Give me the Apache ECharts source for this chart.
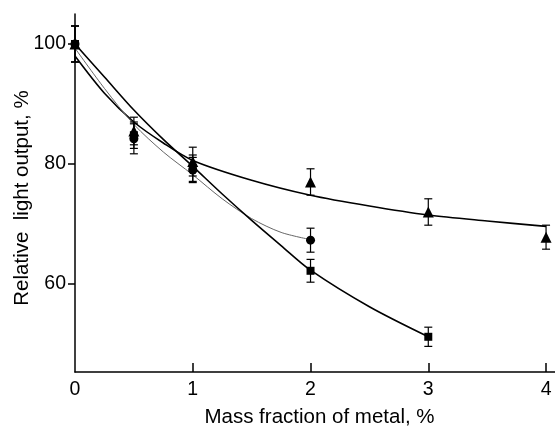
<!DOCTYPE html>
<html>
<head>
<meta charset="UTF-8">
<title>Relative light output</title>
<style>
    html, body { margin: 0; padding: 0; background: #fff; }
    #chartArea { width: 555px; height: 426px; }
</style>
</head>
<body>
<div id="chartArea"></div>
<script src="https://cdn.jsdelivr.net/npm/echarts@6/dist/echarts.min.js"></script>
<script>
// measured points (x = mass fraction, y = light output, err = half bar)
var triX = [0, 0.5, 1, 2, 3, 4];
var triY = [100, 85.5, 80.4, 77, 72, 67.8];
var triErr = [3, 2.3, 2.4, 2.2, 2.2, 2];

var cirX = [0, 0.5, 1, 2];
var cirY = [100, 84.2, 79, 67.3];
var cirErr = [3, 2.5, 2.1, 2];

var sqX = [0, 0.5, 1, 2, 3];
var sqY = [100, 84.8, 79.3, 62.2, 51.2];
var sqErr = [3, 2.2, 2.2, 1.9, 1.6];

// fitted curves
var triFitX = [0, 0.25, 0.5, 0.75, 1, 1.5, 2, 2.5, 3, 3.5, 4];
var triFitY = [98, 91.8, 87, 83.5, 80.6, 77.3, 74.8, 73, 71.5, 70.5, 69.6];

var cirFitX = [0, 0.25, 0.5, 0.75, 1, 1.25, 1.5, 1.75, 2];
var cirFitY = [99.3, 92.6, 86.6, 82, 78.2, 74.2, 70.9, 68.6, 67.4];

var sqFitX = [0, 0.25, 0.5, 0.75, 1, 1.25, 1.5, 1.75, 2, 2.5, 3];
var sqFitY = [100, 94.5, 89, 84.1, 79.6, 75, 70.6, 66.4, 62.3, 56.2, 51.2];

var xTicks = [0, 1, 2, 3, 4];
var yTicks = [60, 80, 100];

function pairs(xs, ys) {
    return xs.map(function (x, i) { return [x, ys[i]]; });
}
function triples(xs, ys, es) {
    return xs.map(function (x, i) { return [x, ys[i], es[i]]; });
}

function renderErr(params, api) {
    var x = api.value(0), y = api.value(1), e = api.value(2);
    var top = api.coord([x, y + e]);
    var bot = api.coord([x, y - e]);
    var w = 4;
    var st = { stroke: '#000', lineWidth: 1.2 };
    return {
        type: 'group',
        children: [
            { type: 'line', shape: { x1: top[0], y1: top[1], x2: bot[0], y2: bot[1] }, style: st },
            { type: 'line', shape: { x1: top[0] - w, y1: top[1], x2: top[0] + w, y2: top[1] }, style: st },
            { type: 'line', shape: { x1: bot[0] - w, y1: bot[1], x2: bot[0] + w, y2: bot[1] }, style: st }
        ]
    };
}

function errSeries(xs, ys, es) {
    return {
        type: 'custom',
        renderItem: renderErr,
        data: triples(xs, ys, es),
        silent: true,
        z: 3
    };
}
function fitSeries(xs, ys, color, width) {
    return {
        type: 'line',
        data: pairs(xs, ys),
        smooth: 0.3,
        showSymbol: false,
        lineStyle: { color: color, width: width },
        silent: true,
        z: 2
    };
}
function markSeries(xs, ys, symbol, size) {
    return {
        type: 'scatter',
        data: pairs(xs, ys),
        symbol: symbol,
        symbolSize: size,
        itemStyle: { color: '#000', opacity: 1 },
        silent: true,
        z: 4
    };
}

var font = 'Liberation Sans, Arial, sans-serif';
var myChart = echarts.init(document.getElementById('chartArea'), null, { renderer: 'canvas' });
myChart.setOption({
    animation: false,
    backgroundColor: '#fff',
    grid: { left: 75, right: 0, top: 14, bottom: 54, containLabel: false, outerBoundsMode: 'none' },
    xAxis: {
        type: 'value',
        min: 0,
        max: 4.076,
        name: 'Mass fraction of metal, %',
        nameLocation: 'middle',
        nameGap: 35,
        nameMoveOverlap: false,
        nameTextStyle: { color: '#000', fontSize: 20.5, fontFamily: font, padding: [0, 0, 0, 9] },
        axisLine: { lineStyle: { color: '#000', width: 1.5 } },
        axisTick: { inside: true, length: 9, lineStyle: { color: '#000', width: 1.5 }, customValues: [1, 2, 3, 4] },
        axisLabel: { color: '#000', fontSize: 19.5, fontFamily: font, margin: 8, customValues: xTicks },
        splitLine: { show: false }
    },
    yAxis: {
        type: 'value',
        min: 45.33,
        max: 105,
        name: 'Relative  light output, %',
        nameLocation: 'middle',
        nameGap: 42,
        nameMoveOverlap: false,
        nameTextStyle: { color: '#000', fontSize: 20.5, fontFamily: font, padding: [0, 10, 0, 0] },
        axisLine: { show: true, lineStyle: { color: '#000', width: 1.5 } },
        axisTick: { show: true, length: 7, lineStyle: { color: '#000', width: 1.5 }, customValues: yTicks },
        axisLabel: { color: '#000', fontSize: 19.5, fontFamily: font, margin: 9, customValues: yTicks },
        splitLine: { show: false }
    },
    series: [
        fitSeries(triFitX, triFitY, '#000', 1.6),
        fitSeries(cirFitX, cirFitY, '#666', 1),
        fitSeries(sqFitX, sqFitY, '#000', 1.6),
        errSeries(triX, triY, triErr),
        errSeries(cirX, cirY, cirErr),
        errSeries(sqX, sqY, sqErr),
        markSeries(triX, triY, 'triangle', 11),
        markSeries(cirX, cirY, 'circle', 9),
        markSeries(sqX, sqY, 'rect', 8)
    ]
});
</script>
</body>
</html>
